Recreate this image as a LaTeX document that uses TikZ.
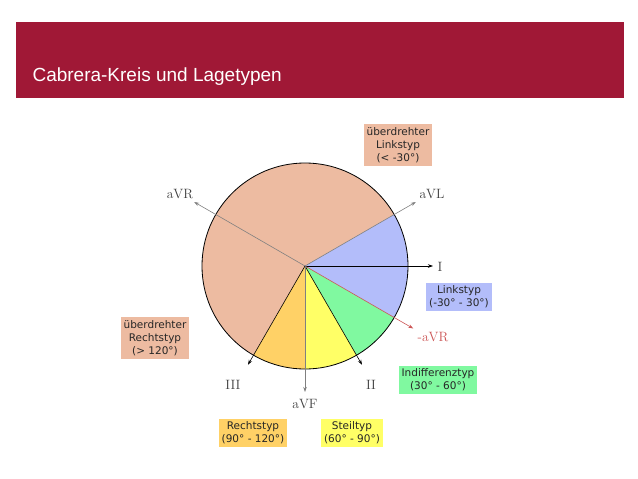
\documentclass[tikz,border=0pt]{standalone}
\usepackage{fontspec}
\setmainfont{Latin Modern Roman}
\newfontfamily\boxfont{DejaVu Sans}
\newfontfamily\titlefont{Liberation Sans}
\usetikzlibrary{arrows.meta}
\definecolor{barred}{HTML}{A01836}
\definecolor{salmon}{HTML}{EDBBA1}
\definecolor{linkblue}{HTML}{B3BDFA}
\definecolor{indgreen}{HTML}{80F9A0}
\definecolor{steilyel}{HTML}{FFFF66}
\definecolor{rechtorg}{HTML}{FFD166}
\definecolor{avrred}{HTML}{CC5555}
\tikzset{
    typbox/.style={font=\boxfont\fontsize{10.5}{13}\selectfont, align=center, inner sep=3pt, text=black!85},
    axlabel/.style={font=\fontsize{13.5}{14}\selectfont, text=black!75},
    axis/.style={-{Stealth[length=5pt,width=3.5pt]}, line width=0.6pt}
}
\begin{document}
\begin{tikzpicture}[x=1pt, y=1pt]
            \useasboundingbox (0, 0) rectangle (638, -479);
            \fill[barred] (16, -22) rectangle (624, -98);
            \node[anchor=base west, text=white, font=\titlefont\fontsize{19}{21}\selectfont] (title) at (29, -81) {Cabrera-Kreis und Lagetypen};
            \coordinate (c) at (305, -266);
            \fill[salmon] (c) -- ++(30:103) arc[start angle=30, end angle=240, radius=103] -- cycle;
            \fill[linkblue] (c) -- ++(-30:103) arc[start angle=-30, end angle=30, radius=103] -- cycle;
            \fill[indgreen] (c) -- ++(-60:103) arc[start angle=-60, end angle=-30, radius=103] -- cycle;
            \fill[steilyel] (c) -- ++(-90:103) arc[start angle=-90, end angle=-60, radius=103] -- cycle;
            \fill[rechtorg] (c) -- ++(-120:103) arc[start angle=-120, end angle=-90, radius=103] -- cycle;
            \draw[line width=0.8pt] (c) circle (103);
            % axes
            \draw[axis, gray] (c) -- ++(150:128) coordinate (eR);
            \draw[axis, gray] (c) -- ++(30:128) coordinate (eL);
            \draw[axis, black] (c) -- ++(0:128) coordinate (eI);
            \draw[axis, avrred] (c) -- ++(-30:125) coordinate (eAR);
            \draw[axis, black] (c) -- ++(-60:114) coordinate (eII);
            \draw[axis, gray] (c) -- ++(-90:126) coordinate (eF);
            \draw[axis, black] (c) -- ++(-120:114) coordinate (eIII);
            \node[axlabel] (aVR) at (180, -194) {aVR};
            \node[axlabel] (aVL) at (432, -194) {aVL};
            \node[axlabel] (I) at (440, -267) {I};
            \node[axlabel, text=avrred] (maVR) at (433, -337) {-aVR};
            \node[axlabel] (II) at (371, -385) {II};
            \node[axlabel] (aVF) at (305, -404) {aVF};
            \node[axlabel] (III) at (233, -385) {III};
            % Lagetypen
            \node[typbox, fill=salmon] (uelink) at (398, -145) {überdrehter\\Linkstyp\\(< -30°)};
            \node[typbox, fill=linkblue] (link) at (459, -297) {Linkstyp\\(-30° - 30°)};
            \node[typbox, fill=salmon] (uerecht) at (155, -338) {überdrehter\\Rechtstyp\\(> 120°)};
            \node[typbox, fill=indgreen] (indiff) at (438, -380) {Indifferenztyp\\(30° - 60°)};
            \node[typbox, fill=rechtorg] (recht) at (253, -433) {Rechtstyp\\(90° - 120°)};
            \node[typbox, fill=steilyel] (steil) at (352, -433) {Steiltyp\\(60° - 90°)};
    \end{tikzpicture}
\end{document}
